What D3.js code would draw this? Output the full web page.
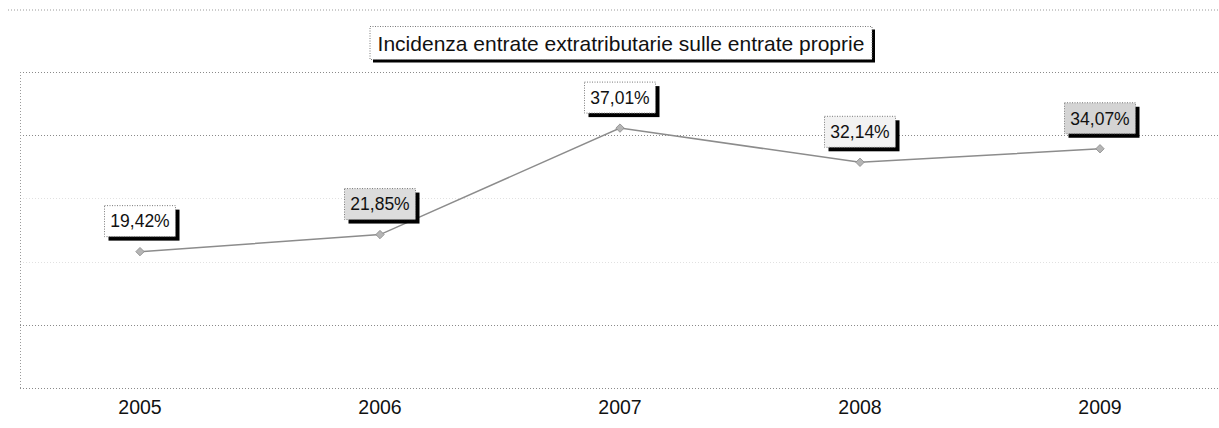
<!DOCTYPE html>
<html>
<head>
<meta charset="utf-8">
<script src="https://cdn.jsdelivr.net/npm/d3@7"></script>
<style>
  html, body { margin: 0; padding: 0; background: #fff; }
  svg { display: block; font-family: "Liberation Sans", Arial, sans-serif; }
</style>
</head>
<body>
<svg id="chart" width="1219" height="428"></svg>
<script>
const categories = ["2005", "2006", "2007", "2008", "2009"];
const values = [19.42, 21.85, 37.01, 32.14, 34.07];
const labels = ["19,42%", "21,85%", "37,01%", "32,14%", "34,07%"];
const labelFills = ["#ffffff", "#dcdcdc", "#ffffff", "#f2f2f2", "#d4d4d4"];
const yTicks = [0, 9, 18, 27, 36, 45];
const title = "Incidenza entrate extratributarie sulle entrate proprie";

const svg = d3.select("#chart");
const W = 1219, H = 428;
const plot = { left: 20, right: 1220, top: 72, bottom: 388 };

const x = d3.scaleBand().domain(categories).range([plot.left, plot.right]);
const y = d3.scaleLinear().domain([0, 45]).range([plot.bottom, plot.top]);
const cx = d => x(d) + x.bandwidth() / 2;

// outer top border
svg.append("line").attr("x1", 8).attr("x2", W).attr("y1", 10).attr("y2", 10)
  .attr("stroke", "#9a9a9a").attr("stroke-width", 1).attr("stroke-dasharray", "1,2");

// gridlines
const gridOpacity = v => (v === 18 || v === 27) ? 0.25 : 1;
svg.append("g").selectAll("line").data(yTicks).join("line")
  .attr("x1", plot.left).attr("x2", plot.right)
  .attr("y1", d => Math.round(y(d)) + 0.5).attr("y2", d => Math.round(y(d)) + 0.5)
  .attr("stroke", "#8a8a8a").attr("stroke-width", 1).attr("stroke-dasharray", "1,2")
  .attr("opacity", gridOpacity);

// left border
svg.append("line").attr("x1", plot.left + 0.5).attr("x2", plot.left + 0.5)
  .attr("y1", plot.top).attr("y2", plot.bottom)
  .attr("stroke", "#9a9a9a").attr("stroke-width", 1).attr("stroke-dasharray", "1,2");

// category axis labels
const xAxis = d3.axisBottom(x).tickSize(0).tickPadding(0);
const gx = svg.append("g").attr("transform", `translate(0, ${plot.bottom + 9})`).call(xAxis);
gx.select(".domain").remove();
gx.selectAll("text").attr("font-size", 19.5).attr("fill", "#111")
  .attr("font-family", "'Liberation Sans', Arial, sans-serif").attr("dy", "0.85em");

// line
const data = categories.map((c, i) => ({ c, v: values[i], label: labels[i], fill: labelFills[i] }));
const line = d3.line().x(d => cx(d.c)).y(d => y(d.v));
svg.append("path").datum(data).attr("d", line)
  .attr("fill", "none").attr("stroke", "#8c8c8c").attr("stroke-width", 1.5);

// markers (diamonds)
svg.append("g").selectAll("path").data(data).join("path")
  .attr("transform", d => `translate(${cx(d.c)}, ${y(d.v)})`)
  .attr("d", d3.symbol().type(d3.symbolDiamond2).size(45))
  .attr("fill", "#b5b5b5").attr("stroke", "#888").attr("stroke-width", 0.8);

// data labels with box + shadow
const lg = svg.append("g").selectAll("g").data(data).join("g")
  .attr("transform", d => `translate(${cx(d.c)}, ${y(d.v) - 15})`);
const bw = 71, bh = 31;
lg.append("rect").attr("x", -bw / 2 + 4).attr("y", -bh + 4).attr("width", bw).attr("height", bh)
  .attr("fill", "#000");
lg.append("rect").attr("x", -bw / 2).attr("y", -bh).attr("width", bw).attr("height", bh)
  .attr("fill", d => d.fill).attr("stroke", "#7a7a7a").attr("stroke-width", 1).attr("stroke-dasharray", "1,1.5");
lg.append("text").attr("x", 0).attr("y", -bh / 2).attr("dy", "0.36em")
  .attr("text-anchor", "middle").attr("font-size", 17.5).attr("fill", "#111")
  .text(d => d.label);

// title box
const tg = svg.append("g").attr("transform", "translate(621, 43)");
const tw = 502, th = 33;
tg.append("rect").attr("x", -tw / 2 + 3).attr("y", -th / 2 + 3).attr("width", tw).attr("height", th).attr("fill", "#000");
tg.append("rect").attr("x", -tw / 2).attr("y", -th / 2).attr("width", tw).attr("height", th)
  .attr("fill", "#fff").attr("stroke", "#7a7a7a").attr("stroke-dasharray", "1,1.5");
tg.append("text").attr("text-anchor", "middle").attr("dy", "0.36em")
  .attr("font-size", 21).attr("fill", "#111").text(title);
</script>
</body>
</html>
